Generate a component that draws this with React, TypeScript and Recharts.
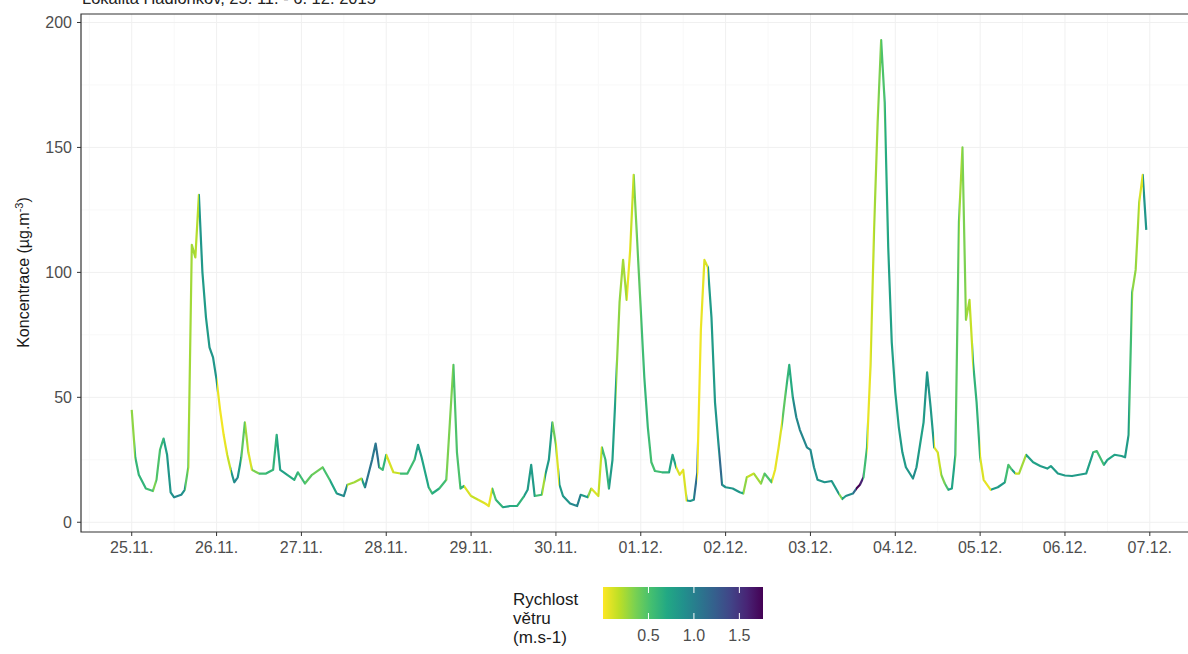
import React from 'react'
import {
  LineChart,
  Line,
  XAxis,
  YAxis,
  CartesianGrid,
  ReferenceArea,
} from 'recharts'

// hours since 25.11. 00:00
const hours = [
  0, 1, 2, 4, 6, 7, 8, 9, 10, 11, 12, 14, 15, 16, 17, 18, 19, 20, 21, 22, 23,
  24, 25, 26, 27, 28, 29, 30, 31, 32, 33, 34, 36, 38, 40, 41, 42, 44, 46, 47,
  49, 51, 54, 56, 58, 60, 61, 63, 65, 66, 68, 69, 70, 71,
  72, 74, 76, 78, 80, 81, 82, 84, 85, 87, 89, 90, 91, 92, 93, 94,
  96, 98, 100, 101, 102, 103, 105, 107, 109, 111, 112, 113, 114, 116, 117, 118, 119,
  120, 121, 122, 124, 126, 127, 129, 130, 132, 133, 134, 135, 136, 137, 138, 139, 140, 141, 142, 143,
  144, 145, 146, 147, 148, 150, 152, 153, 154, 155, 156, 157, 158, 159, 160, 161, 162, 163, 164, 165, 166, 167,
  168, 170, 172, 173, 174, 176, 178, 179, 181, 182, 183, 184, 185, 186, 187, 188, 189, 191,
  192, 193, 194, 196, 198, 200, 201, 202, 204, 205, 206, 207, 208, 209, 210, 211, 212, 213, 214, 215,
  216, 217, 218, 219, 221, 222, 223, 224, 225, 226, 227, 228, 229, 230, 231, 232, 233, 234, 235, 236, 237, 238, 239,
  240, 241, 243, 245, 247, 248, 249, 250, 251, 253, 255, 257, 259, 260, 262,
  264, 266, 268, 270, 272, 273, 275, 276, 278, 280, 281, 282, 283, 284, 285, 286, 287,
]

// PM concentration (µg/m3)
const conc = [
  45, 26, 19, 13.5, 12.5, 17, 29, 33.5, 27, 12, 10, 11, 13, 22, 111, 106, 131, 100, 82, 70, 66,
  57, 45, 35, 27, 21, 16, 18, 26, 40, 28, 21, 19.5, 19.5, 21, 35, 21, 19, 17, 20,
  15.5, 19, 22, 17, 11.5, 10.5, 15, 16, 17.5, 14, 25, 31.5, 22, 21,
  27, 20, 19.5, 19.5, 25, 31, 26, 14, 11.5, 13.5, 17, 40, 63, 28, 13.5, 14.5,
  10.5, 9, 7.5, 6.5, 13.5, 9, 6, 6.5, 6.5, 10.5, 13, 23, 10.5, 11, 19, 25, 40,
  31, 15, 10.5, 7.5, 6.5, 11, 10, 13.5, 10.5, 30, 25, 13.5, 25, 55, 88, 105, 89, 109, 139, 112,
  85, 58, 38, 24, 20.5, 20, 20, 27, 22, 19, 21, 8.7, 8.5, 9, 20, 77, 105, 102, 82, 48, 31, 15,
  14, 13.5, 12, 11.5, 18, 19.5, 15.5, 19.5, 16, 21, 30, 40, 52, 63, 50, 42, 37, 30,
  29, 22, 17, 16, 16.5, 11.5, 9.3, 10.5, 11.5, 13.5, 15, 18, 30, 63, 117, 160, 193, 168, 110, 72,
  52, 38, 28, 22, 17.5, 22, 31, 40, 60, 46, 30, 28, 19, 15.5, 13, 13.5, 27, 120, 150, 81, 89, 64, 48,
  26, 17, 13, 14, 16, 23, 21, 19.5, 19.5, 27, 24, 22.5, 21.5, 22.5, 19.5,
  18.7, 18.5, 19, 19.5, 28, 28.5, 23, 25, 27, 26.5, 26, 35, 92, 101, 128, 139, 117,
]

// wind speed (m/s)
const wind = [
  0.3, 0.6, 0.62, 0.54, 0.35, 0.5, 0.6, 0.76, 0.84, 0.88, 0.95, 0.88, 0.45, 0.25, 0.25, 0.2, 0.84, 0.8, 0.8, 0.84, 0.84,
  0.06, 0.03, 0.06, 0.15, 0.84, 0.95, 0.8, 0.45, 0.25, 0.1, 0.35, 0.55, 0.6, 0.62, 0.76, 0.76, 0.68, 0.62, 0.55,
  0.45, 0.4, 0.52, 0.72, 0.92, 0.95, 0.25, 0.25, 0.8, 1.08, 1.05, 1.12, 0.55, 0.62,
  0.1, 0.15, 0.55, 0.55, 0.76, 0.8, 0.72, 0.55, 0.68, 0.55, 0.35, 0.35, 0.5, 0.5, 0.62, 0.1,
  0.15, 0.1, 0.06, 0.06, 0.5, 0.62, 0.76, 0.68, 0.62, 0.8, 0.8, 0.8, 0.55, 0.25, 0.8, 0.8, 0.4,
  0.1, 0.8, 0.84, 0.95, 1.0, 0.8, 0.3, 0.1, 0.15, 0.55, 0.62, 0.8, 0.76, 0.3, 0.25, 0.25, 0.06, 0.15, 0.35, 0.45,
  0.55, 0.6, 0.55, 0.52, 0.55, 0.62, 0.76, 0.72, 0.1, 0.06, 0.1, 0.84, 0.84, 1.12, 0.03, 0.06, 0.1, 0.8, 0.8, 0.84, 1.15, 0.88,
  0.84, 0.84, 0.72, 0.3, 0.15, 0.25, 0.35, 0.5, 0.06, 0.06, 0.1, 0.45, 0.6, 0.68, 0.95, 0.95, 0.95, 0.95,
  0.92, 0.88, 0.84, 0.88, 0.8, 0.35, 0.76, 0.92, 1.15, 1.76, 1.6, 0.55, 0.06, 0.15, 0.25, 0.35, 0.5, 0.68, 0.76, 0.76,
  0.76, 0.8, 0.8, 0.84, 0.92, 0.8, 0.76, 0.84, 0.84, 0.8, 0.1, 0.15, 0.35, 0.5, 0.76, 0.72, 0.45, 0.25, 0.35, 0.25, 0.15, 0.62, 0.62,
  0.1, 0.06, 0.8, 0.8, 0.55, 0.5, 0.76, 0.15, 0.25, 0.76, 0.76, 0.8, 0.76, 0.8, 0.8,
  0.8, 0.8, 0.8, 0.76, 0.55, 0.55, 0.76, 0.72, 0.76, 0.8, 0.8, 0.55, 0.3, 0.25, 0.1, 0.84, 0.84,
]

const dayTicks = [0, 24, 48, 72, 96, 120, 144, 168, 192, 216, 240, 264, 288]
const dayLabels = [
  '25.11.', '26.11.', '27.11.', '28.11.', '29.11.', '30.11.', '01.12.',
  '02.12.', '03.12.', '04.12.', '05.12.', '06.12.', '07.12.',
]
const concTicks = [0, 50, 100, 150, 200]
const concMinor = [25, 75, 125, 175]
const windTicks = [0.5, 1.0, 1.5]
const windRange = [0, 1.76]

const xDomain = [-14.35, 301.35]
const yDomain = [-3.9, 203.4]

const VIRIDIS = [
  '#440154', '#482475', '#414487', '#355f8d', '#2a788e', '#21918c',
  '#22a884', '#44bf70', '#7ad151', '#bddf26', '#fde725',
]

const FONT = '"Liberation Sans", Arial, Helvetica, sans-serif'

const hexRgb = (hex: string) => [
  parseInt(hex.slice(1, 3), 16),
  parseInt(hex.slice(3, 5), 16),
  parseInt(hex.slice(5, 7), 16),
]

function viridis(t: number) {
  const c = Math.max(0, Math.min(1, t)) * (VIRIDIS.length - 1)
  const i = Math.min(Math.floor(c), VIRIDIS.length - 2)
  const f = c - i
  const a = hexRgb(VIRIDIS[i])
  const b = hexRgb(VIRIDIS[i + 1])
  const m = a.map((v, k) => Math.round(v + (b[k] - v) * f))
  return `rgb(${m[0]},${m[1]},${m[2]})`
}

// reversed viridis: low wind = yellow, high wind = purple
const windColor = (w: number) =>
  viridis(1 - (w - windRange[0]) / (windRange[1] - windRange[0]))

const data = hours.map((h, i) => ({ h, conc: conc[i], wind: wind[i] }))
const xMinor = [-12, ...dayTicks.map((d) => d + 12)]

// each segment takes the colour of its starting point (like geom_line)
const lineStops = () => {
  const h0 = hours[0]
  const span = hours[hours.length - 1] - h0
  const out: React.ReactNode[] = []
  for (let i = 0; i < hours.length - 1; i++) {
    const c = windColor(wind[i])
    out.push(<stop key={`a${i}`} offset={(hours[i] - h0) / span} stopColor={c} />)
    out.push(<stop key={`b${i}`} offset={(hours[i + 1] - h0) / span} stopColor={c} />)
  }
  return out
}

function Overlay() {
  const barX = 603
  const barY = 587
  const barW = 160
  const barH = 32
  const pos = (v: number) =>
    barX + ((v - windRange[0]) / (windRange[1] - windRange[0])) * barW

  return (
    <svg
      width={1188}
      height={654}
      style={{ position: 'absolute', left: 0, top: 0, pointerEvents: 'none' }}
      fontFamily={FONT}
    >
      <defs>
        <linearGradient id="windLine" x1="0" x2="1" y1="0" y2="0">
          {lineStops()}
        </linearGradient>
        <linearGradient id="windBar" x1="0" x2="1" y1="0" y2="0">
          {VIRIDIS.map((_, i) => (
            <stop
              key={i}
              offset={i / (VIRIDIS.length - 1)}
              stopColor={VIRIDIS[VIRIDIS.length - 1 - i]}
            />
          ))}
        </linearGradient>
      </defs>

      <text x={82} y={4} fontSize={16.5} fill="#222">
        Lokalita Hadlonkov, 25. 11. - 6. 12. 2015
      </text>

      <text
        transform="translate(29,272.5) rotate(-90)"
        textAnchor="middle"
        fontSize={16}
        fill="#1a1a1a"
      >
        Koncentrace (µg.m
        <tspan dy={-6} fontSize={11}>
          -3
        </tspan>
        <tspan dy={6}>)</tspan>
      </text>

      <g fill="#1a1a1a" fontSize={17}>
        <text x={513} y={605}>Rychlost</text>
        <text x={513} y={624}>větru</text>
        <text x={513} y={643}>(m.s-1)</text>
      </g>
      <rect x={barX} y={barY} width={barW} height={barH} fill="url(#windBar)" />
      {windTicks.map((t) => (
        <g key={t}>
          <line x1={pos(t)} x2={pos(t)} y1={barY} y2={barY + 6} stroke="#fff" />
          <line
            x1={pos(t)}
            x2={pos(t)}
            y1={barY + barH - 6}
            y2={barY + barH}
            stroke="#fff"
          />
          <text
            x={pos(t)}
            y={641}
            textAnchor="middle"
            fontSize={16}
            fill="#4d4d4d"
          >
            {t.toFixed(1)}
          </text>
        </g>
      ))}
    </svg>
  )
}

export default function App() {
  return (
    <div
      style={{
        position: 'absolute',
        left: 0,
        top: 0,
        width: 1188,
        height: 654,
        overflow: 'hidden',
        background: '#fff',
        fontFamily: FONT,
      }}
    >
      <LineChart
        width={1197}
        height={565}
        data={data}
        margin={{ top: 14, right: 0, bottom: 0, left: 0 }}
      >
        <CartesianGrid
          horizontalValues={concMinor}
          verticalValues={xMinor}
          stroke="#f8f8f8"
        />
        <CartesianGrid
          horizontalValues={concTicks}
          verticalValues={dayTicks}
          stroke="#f0f0f0"
        />
        <XAxis
          dataKey="h"
          type="number"
          domain={xDomain}
          allowDataOverflow
          ticks={dayTicks}
          tickFormatter={(v: number) => dayLabels[dayTicks.indexOf(v)]}
          interval={0}
          height={33}
          axisLine={false}
          tickLine={{ stroke: '#333' }}
          tickSize={4}
          tickMargin={6}
          tick={{ fill: '#4d4d4d', fontSize: 16, fontFamily: FONT }}
        />
        <YAxis
          type="number"
          domain={yDomain}
          allowDataOverflow
          ticks={concTicks}
          interval={0}
          width={81}
          axisLine={false}
          tickLine={{ stroke: '#333' }}
          tickSize={4}
          tickMargin={5}
          tick={{ fill: '#4d4d4d', fontSize: 16, fontFamily: FONT }}
        />
        <Line
          type="linear"
          dataKey="conc"
          stroke="url(#windLine)"
          strokeWidth={2.2}
          strokeLinejoin="round"
          dot={false}
          activeDot={false}
          isAnimationActive={false}
        />
        <ReferenceArea
          x1={xDomain[0]}
          x2={xDomain[1]}
          y1={yDomain[0]}
          y2={yDomain[1]}
          fill="none"
          fillOpacity={0}
          stroke="#333"
          strokeWidth={1.2}
          ifOverflow="visible"
        />
      </LineChart>
      <Overlay />
    </div>
  )
}
